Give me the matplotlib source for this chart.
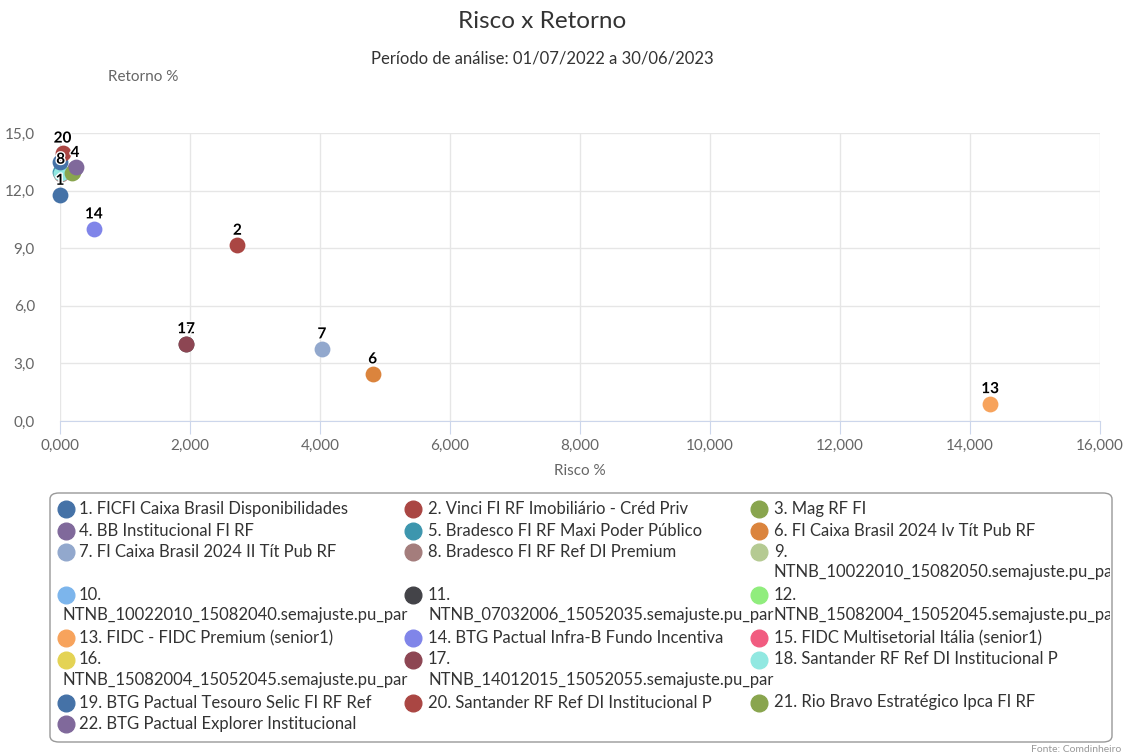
import matplotlib.pyplot as plt
import matplotlib.patheffects as pe
from matplotlib.patches import FancyBboxPatch
from matplotlib.transforms import Bbox, TransformedBbox

plt.rcParams['font.family'] = ['Lato', 'DejaVu Sans']

# fund names (legend order)
names = [
    "FICFI Caixa Brasil Disponibilidades",
    "Vinci FI RF Imobiliário - Créd Priv",
    "Mag RF FI",
    "BB Institucional FI RF",
    "Bradesco FI RF Maxi Poder Público",
    "FI Caixa Brasil 2024 Iv Tít Pub RF",
    "FI Caixa Brasil 2024 II Tít Pub RF",
    "Bradesco FI RF Ref DI Premium",
    "NTNB_10022010_15082050.semajuste.pu_par",
    "NTNB_10022010_15082040.semajuste.pu_par",
    "NTNB_07032006_15052035.semajuste.pu_par",
    "NTNB_15082004_15052045.semajuste.pu_par",
    "FIDC - FIDC Premium (senior1)",
    "BTG Pactual Infra-B Fundo Incentiva",
    "FIDC Multisetorial Itália (senior1)",
    "NTNB_15082004_15052045.semajuste.pu_par",
    "NTNB_14012015_15052055.semajuste.pu_par",
    "Santander RF Ref DI Institucional P",
    "BTG Pactual Tesouro Selic FI RF Ref",
    "Santander RF Ref DI Institucional P",
    "Rio Bravo Estratégico Ipca FI RF",
    "BTG Pactual Explorer Institucional",
]

# risk % and return % per fund (None = no point on chart)
risco = [0.00, 2.73, 0.20, 0.23, 0.00, 4.81, 4.03, 0.01, None, None, 1.94, None,
         14.31, 0.52, None, None, 1.94, 0.02, 0.00, 0.04, 0.18, 0.24]
retorno = [11.75, 9.15, 12.95, 13.20, 12.95, 2.45, 3.75, 12.85, None, None, 4.02, None,
           0.90, 10.00, None, None, 4.02, 12.90, 13.50, 13.95, 12.90, 13.25]

# labels that stay visible (the others are hidden by overlap)
shown_labels = [1, 2, 4, 6, 7, 8, 11, 13, 14, 17, 20]

colors = ['#4572A7', '#AA4643', '#89A54E', '#80699B', '#3D96AE', '#DB843D',
          '#92A8CD', '#A47D7C', '#B5CA92', '#7cb5ec', '#434348', '#90ed7d',
          '#f7a35c', '#8085e9', '#f15c80', '#e4d354', '#8d4653', '#91e8e1',
          '#4572A7', '#AA4643', '#89A54E', '#80699B']

W, H = 1124, 755


def fx(x):
    return x / W


def fy(y):
    return 1 - y / H


fig = plt.figure(figsize=(W / 100, H / 100), dpi=100)
ax = fig.add_axes([fx(60), fy(421), fx(1100) - fx(60), fy(133) - fy(421)])

for i in range(len(names)):
    if risco[i] is None:
        continue
    ax.scatter(risco[i], retorno[i], s=130, color=colors[i], zorder=3, clip_on=False,
               linewidths=0)

for i in range(len(names)):
    n = i + 1
    if risco[i] is None or n not in shown_labels:
        continue
    ax.annotate(str(n), (risco[i], retorno[i]), xytext=(0, 10.5), textcoords='offset points',
                ha='center', va='center', fontsize=11, fontweight='bold', color='black',
                zorder=5, annotation_clip=False,
                path_effects=[pe.withStroke(linewidth=2, foreground='white')])

ax.set_xlim(0, 16)
ax.set_ylim(0, 15)
ax.set_xticks(range(0, 17, 2))
ax.set_yticks([0, 3, 6, 9, 12, 15])
ax.set_xticklabels([f"{v:.3f}".replace('.', ',') for v in range(0, 17, 2)])
ax.set_yticklabels([f"{v:.1f}".replace('.', ',') for v in [0, 3, 6, 9, 12, 15]])
ax.grid(True, color='#e6e6e6', linewidth=1)
ax.set_axisbelow(True)
for s in ['top', 'right', 'left']:
    ax.spines[s].set_visible(False)
ax.spines['bottom'].set_color('#ccd6eb')
ax.tick_params(axis='x', colors='#ccd6eb', length=9, labelcolor='#666666', labelsize=11, pad=4)
ax.tick_params(axis='y', length=0, labelcolor='#666666', labelsize=11, pad=18)
ax.set_xlabel('Risco %', fontsize=11, color='#666666', labelpad=8)

fig.text(fx(542), fy(22), 'Risco x Retorno', ha='center', va='center', fontsize=17.5, color='#333333')
fig.text(fx(542), fy(58), 'Período de análise: 01/07/2022 a 30/06/2023', ha='center', va='center',
         fontsize=12, color='#333333')
fig.text(fx(108), fy(77), 'Retorno %', ha='left', va='center', fontsize=11, color='#666666')

# legend box drawn by hand (row-major, wrapping long names)
box = FancyBboxPatch((fx(50), fy(742)), fx(1112) - fx(50), fy(493) - fy(742),
                     boxstyle='round,pad=0,rounding_size=0.008', transform=fig.transFigure,
                     facecolor='white', edgecolor='#999999', linewidth=1)
fig.patches.append(box)
clip = TransformedBbox(Bbox.from_extents(fx(50), fy(742), fx(1110), fy(493)), fig.transFigure)

marker_x = [66, 413, 759]
text_x = [79, 428, 774]
wrap_x = [62, 428, 774]
line_h = 21.5
y = 509
ncol = 3
fs = 12
for r in range(0, len(names), ncol):
    row = list(range(r, min(r + ncol, len(names))))
    lines = 1
    for c, i in enumerate(row):
        label = f"{i + 1}. {names[i]}"
        fig.lines.append(plt.Line2D([fx(marker_x[c])], [fy(y)], marker='o', markersize=12,
                                    color=colors[i], linestyle='none',
                                    transform=fig.transFigure))
        if names[i].startswith('NTNB'):
            fig.text(fx(text_x[c]), fy(y), f"{i + 1}.", ha='left', va='center',
                     fontsize=fs, color='#333333')
            t = fig.text(fx(wrap_x[c]), fy(y + 20), names[i], ha='left', va='center',
                         fontsize=fs, color='#333333')
            t.set_clip_box(clip)
            t.set_clip_on(True)
            lines = 2
        else:
            fig.text(fx(text_x[c]), fy(y), label, ha='left', va='center',
                     fontsize=fs, color='#333333')
    y += line_h * lines

fig.text(fx(1121), fy(749), 'Fonte: Comdinheiro', ha='right', va='center', fontsize=7.5,
         color='#999999')

fig.savefig('out.png', dpi=100)
